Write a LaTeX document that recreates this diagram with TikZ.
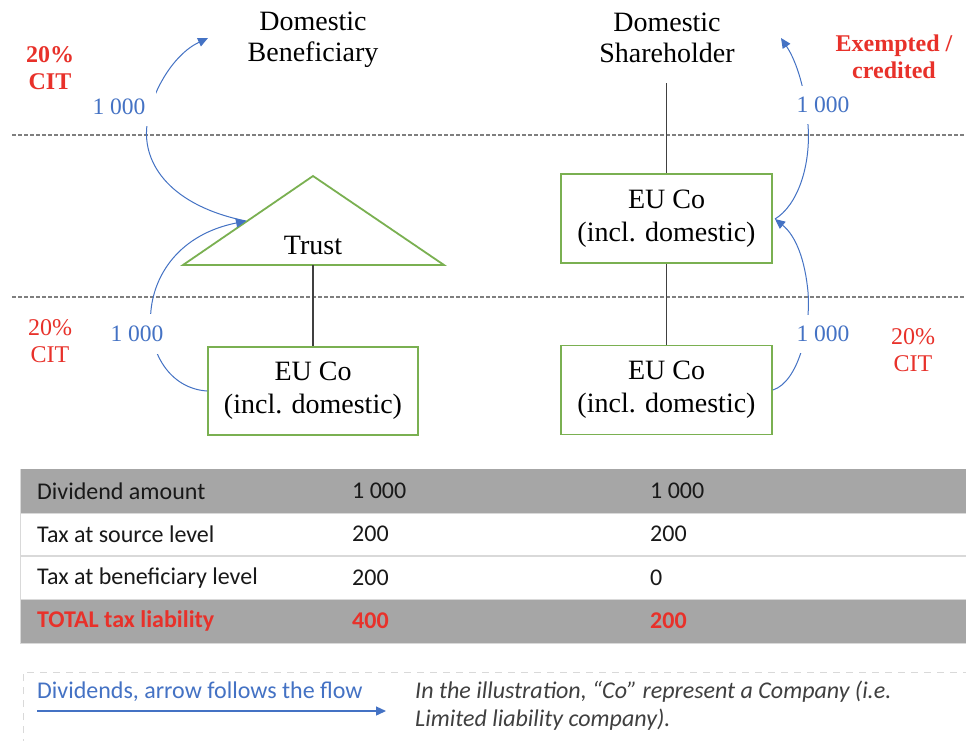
\documentclass[tikz,border=0pt]{standalone}
\usepackage{fontspec}
\setmainfont{Liberation Serif}
\newfontfamily\calibri{Carlito}
\usetikzlibrary{arrows.meta}
\definecolor{flowblue}{HTML}{4472C4}
\definecolor{taxred}{HTML}{E8312A}
\definecolor{boxgreen}{HTML}{7AB051}
\definecolor{rowgray}{HTML}{A6A6A6}
\definecolor{sepgray}{HTML}{D9D9D9}
\definecolor{notegray}{HTML}{404040}
\definecolor{linegray}{HTML}{7F7F7F}

\tikzset{
  entity/.style={draw=boxgreen, line width=1.8pt, minimum width=210pt,
    minimum height=88pt, align=center, inner sep=0pt,
    font=\fontsize{28}{33}\selectfont},
  party/.style={align=center, inner sep=0pt, font=\fontsize{28}{31}\selectfont},
  owner/.style={draw=notegray, line width=1.3pt},
  level/.style={draw=linegray, line width=1.1pt, dash pattern=on 3.5pt off 2.5pt},
  flow/.style={draw=flowblue, line width=1pt, -{Triangle[length=10pt,width=9pt]}},
  amount/.style={text=flowblue, fill=white, font=\fontsize{23.5}{24}\selectfont},
  taxnote/.style={text=taxred, align=center, inner sep=0pt, font=\fontsize{24}{27}\selectfont},
  taxbold/.style={taxnote, font=\fontsize{24}{27}\selectfont\bfseries},
  cell/.style={anchor=west, inner sep=0pt, text=black!90, font=\calibri\fontsize{24}{26}\selectfont},
  totalcell/.style={cell, text=taxred, font=\calibri\fontsize{24}{26}\selectfont\bfseries},
  notetext/.style={anchor=west, inner sep=0pt, text=notegray, font=\calibri\itshape\fontsize{24}{26}\selectfont}
}

\begin{document}
\begin{tikzpicture}[x=1pt,y=-1pt]
\useasboundingbox (0,0) rectangle (966,740);
\fill[white] (0,0) rectangle (966,740);

% level separators
\draw[level] (12,135) -- (966,135);
\draw[level] (12,297) -- (966,297);

% left structure: beneficiary, trust, company
\node[party] (ben) at (313,40) {Domestic\\Beneficiary};
\draw[draw=boxgreen, line width=1.8pt, line join=miter]
  (183,265) coordinate (trustL) -- (313,176) coordinate (trustT)
  -- (444,265) coordinate (trustR) -- cycle;
\coordinate (trustB) at (313,265);
\node[inner sep=0pt, font=\fontsize{28}{33}\selectfont] (trust) at (313,245) {Trust};
\node[entity] (box1) at (313,391) {EU Co\\(incl. domestic)};
\draw[owner] (trustB) -- (box1.north);

% right structure: shareholder and two companies
\node[party] (sh) at (667,38) {Domestic\\Shareholder};
\coordinate (shB) at (666.5,83);
\node[entity, minimum width=211pt, minimum height=89pt] (box2) at (666.5,218.5) {EU Co\\(incl. domestic)};
\node[entity, minimum width=211pt, minimum height=89pt] (box3) at (666.5,390) {EU Co\\(incl. domestic)};
\draw[owner] (shB) -- (box2.north);
\draw[owner] (box2.south) -- (box3.north);

% dividend flows
\coordinate (trustIn) at (246,221);
\coordinate (benIn) at (208,38);
\coordinate (shIn) at (781,38);
\coordinate (box2In) at (775,219);
\draw[flow] (box1.west) .. controls (132,386) and (122,246) .. (trustIn);
\draw[flow] (trustIn) .. controls (172,206) and (142,165) .. (147,125)
  .. controls (150,95) and (172,55) .. (benIn);
\draw[flow] (box3.east) .. controls (798,382) and (811,330) .. (808,292)
  .. controls (805,260) and (796,236) .. (box2In);
\draw[flow] (box2In) .. controls (798,205) and (811,165) .. (808,125)
  .. controls (806,92) and (797,62) .. (shIn);

% flow amounts
\node[amount, inner xsep=11pt, inner ysep=11pt] (amt1) at (119,107) {1 000};
\node[amount, inner xsep=9pt, inner ysep=12pt] (amt2) at (137,334) {1 000};
\node[amount, inner xsep=9pt, inner ysep=11pt] (amt3) at (823,105) {1 000};
\node[amount, inner xsep=9pt, inner ysep=11pt] (amt4) at (823,334) {1 000};

% tax notes
\node[taxbold] (tax1) at (50,68) {20\%\\CIT};
\node[taxnote] (tax2) at (50,341) {20\%\\CIT};
\node[taxbold] (tax3) at (894,57) {Exempted /\\credited};
\node[taxnote] (tax4) at (913,350) {20\%\\CIT};

% summary table
\fill[rowgray] (20,469) rectangle (966,513);
\fill[rowgray] (20,599) rectangle (966,643);
\draw[sepgray, line width=0.8pt] (20,513) -- (966,513);
\draw[sepgray, line width=1.2pt] (20,556) -- (966,556);
\draw[sepgray, line width=0.8pt] (20,599) -- (966,599);
\draw[sepgray, line width=0.8pt] (20,469) -- (20,643);
\draw[sepgray, line width=0.8pt] (20,643) -- (966,643);

\node[cell] (r1a) at (37,491) {Dividend amount};
\node[cell] (r1b) at (352,491) {1 000};
\node[cell] (r1c) at (650,491) {1 000};
\node[cell] (r2a) at (37,534) {Tax at source level};
\node[cell] (r2b) at (352,534) {200};
\node[cell] (r2c) at (650,534) {200};
\node[cell] (r3a) at (37,578) {Tax at beneficiary level};
\node[cell] (r3b) at (352,578) {200};
\node[cell] (r3c) at (650,578) {0};
\node[totalcell] (r4a) at (37,621) {TOTAL tax liability};
\node[totalcell] (r4b) at (352,621) {400};
\node[totalcell] (r4c) at (650,621) {200};

% legend
\draw[sepgray, line width=1pt, dash pattern=on 7pt off 6pt] (23,746) -- (23,672) -- (972,672);
\node[cell, text=flowblue] (legtext) at (37,692) {Dividends, arrow follows the flow};
\coordinate (legA) at (37,711);
\coordinate (legB) at (386,711);
\draw[flow, line width=1.3pt] (legA) -- (legB);
\node[notetext] (note1) at (415,692) {In the illustration, “Co” represent a Company (i.e.};
\node[notetext] (note2) at (415,720) {Limited liability company).};
\end{tikzpicture}
\end{document}
